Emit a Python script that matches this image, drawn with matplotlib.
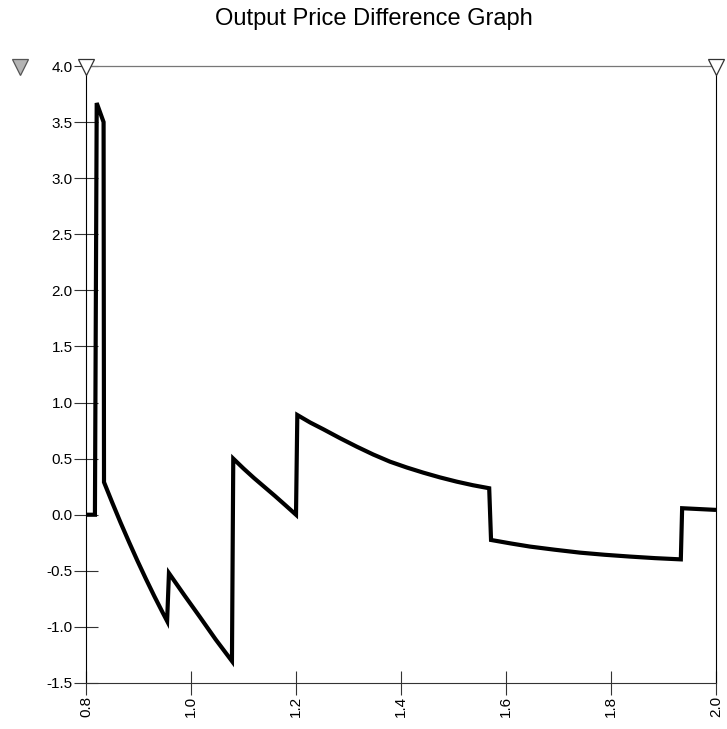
import matplotlib
matplotlib.use("Agg")
import matplotlib.pyplot as plt

plt.rcParams['font.family'] = ['Liberation Sans', 'DejaVu Sans']

# Price difference along the output axis (piecewise, with jumps)
x_vals = [0.800, 0.817, 0.8204, 0.8335, 0.8343,
          0.850, 0.866, 0.882, 0.898, 0.914, 0.930, 0.946, 0.9545,
          0.9580, 0.988, 1.017, 1.047, 1.0780,
          1.0805, 1.100, 1.120, 1.140, 1.160, 1.180, 1.2000,
          1.2025, 1.227, 1.252, 1.284, 1.3156, 1.347, 1.379, 1.411,
          1.4425, 1.474, 1.506, 1.537, 1.5680,
          1.5715, 1.609, 1.6457, 1.693, 1.741, 1.788, 1.836, 1.884, 1.9330,
          1.9355, 2.000]
y_vals = [0.000, 0.000, 3.670, 3.500, 0.290,
          0.108, -0.072, -0.244, -0.411, -0.571, -0.725, -0.872, -0.948,
          -0.521, -0.722, -0.912, -1.112, -1.305,
          0.500, 0.412, 0.327, 0.247, 0.167, 0.084, 0.000,
          0.889, 0.822, 0.762, 0.682, 0.607, 0.537, 0.473, 0.421,
          0.375, 0.333, 0.295, 0.263, 0.236,
          -0.225, -0.256, -0.284, -0.312, -0.338, -0.357, -0.373, -0.387, -0.398,
          0.058, 0.043]

x_ticks = [0.8, 1.0, 1.2, 1.4, 1.6, 1.8, 2.0]
y_ticks = [-1.5, -1.0, -0.5, 0.0, 0.5, 1.0, 1.5, 2.0, 2.5, 3.0, 3.5, 4.0]
title = "Output Price Difference Graph"

fig = plt.figure(figsize=(7.27, 7.29), dpi=100)
ax = fig.add_axes([86/727, 1 - 683/729, 630/727, 617/729])

ax.plot(x_vals, y_vals, color='black', lw=3.0, solid_joinstyle='miter',
        solid_capstyle='butt')

ax.set_xlim(0.8, 2.0)
ax.set_ylim(-1.5, 4.0)
ax.set_xticks(x_ticks)
ax.set_yticks(y_ticks)
ax.set_xticklabels([f"{v:.1f}" for v in x_ticks], rotation=90)
ax.set_yticklabels([f"{v:.1f}" for v in y_ticks])

ax.tick_params(axis='both', direction='inout', length=17, width=0.8,
               color='#333333', labelsize=11, pad=1)

for side in ('left', 'right'):
    ax.spines[side].set_color('black')
    ax.spines[side].set_linewidth(0.8)
ax.spines['top'].set_color('#777777')
ax.spines['top'].set_linewidth(0.9)
ax.spines['bottom'].set_color('#333333')
ax.spines['bottom'].set_linewidth(0.8)

# Cursor markers along the top edge
tri_kw = dict(marker='v', markersize=12, transform=ax.transAxes,
              clip_on=False, zorder=5, markeredgewidth=0.9)
ax.plot([0.0], [0.998], markerfacecolor='white', markeredgecolor='#333333', **tri_kw)
ax.plot([1.0], [0.998], markerfacecolor='white', markeredgecolor='#333333', **tri_kw)
ax.plot([(20 - 86) / 630], [0.998], markerfacecolor='#b4b4b4',
        markeredgecolor='#555555', **tri_kw)

fig.text(374/727, 1 - 18.5/729, title, ha='center', va='center', fontsize=17)

fig.savefig("out.png", dpi=100)
